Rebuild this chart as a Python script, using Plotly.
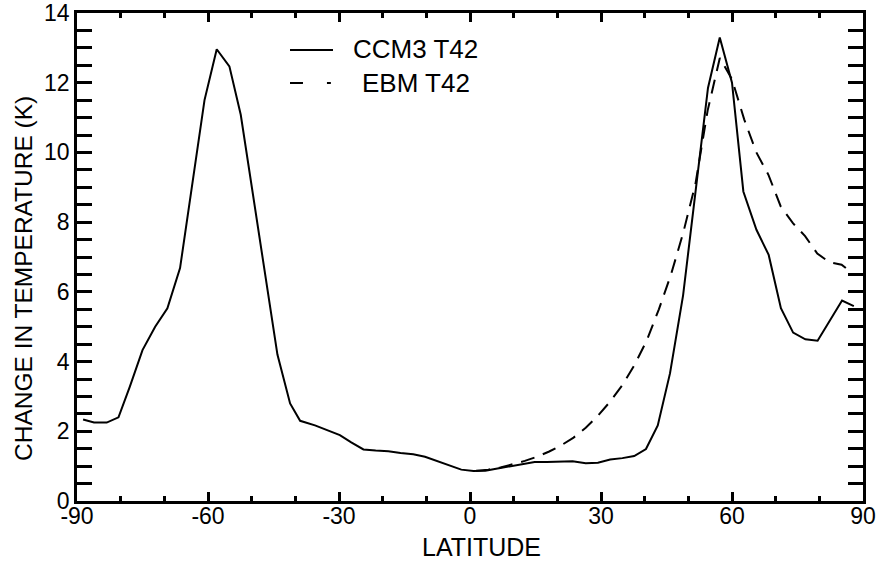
import plotly.graph_objects as go

# CCM3 T42 (solid)
ccm3_lat = [-88.6, -86.1, -83.2, -80.5, -77.9, -75.0, -72.1, -69.3, -66.4, -63.6, -60.8, -58.0,
            -55.1, -52.5, -49.7, -46.9, -44.1, -41.2, -38.9, -35.5, -32.7, -29.8, -27.2, -24.4,
            -21.6, -18.7, -15.9, -13.0, -10.3, -7.6, -4.8, -2.0, 0.8, 3.5, 6.3, 9.2, 12.0, 14.8,
            17.6, 20.5, 23.5, 26.5, 29.3, 32.1, 34.9, 37.6, 40.3, 43.0, 45.8, 48.8, 51.6, 54.5,
            57.2, 60.0, 62.6, 65.6, 68.4, 71.2, 74.0, 76.8, 79.6, 82.3, 85.2, 87.9]
ccm3_dt = [2.34, 2.25, 2.25, 2.40, 3.28, 4.33, 5.00, 5.53, 6.68, 9.10, 11.50, 12.96,
           12.47, 11.08, 8.80, 6.50, 4.20, 2.80, 2.30, 2.17, 2.03, 1.89, 1.68, 1.48,
           1.45, 1.43, 1.38, 1.34, 1.27, 1.15, 1.03, 0.90, 0.86, 0.87, 0.93, 1.00, 1.07, 1.12,
           1.12, 1.13, 1.14, 1.08, 1.10, 1.19, 1.23, 1.29, 1.49, 2.17, 3.66, 5.90, 8.90, 11.85,
           13.30, 12.00, 8.88, 7.78, 7.06, 5.53, 4.83, 4.64, 4.60, 5.15, 5.75, 5.59]

# EBM T42 (dashed)
ebm_lat = [1.40, 4.19, 6.98, 9.77, 12.56, 15.35, 18.14, 20.93, 23.72, 26.51, 29.30, 32.09,
           34.88, 37.67, 40.46, 43.25, 46.04, 48.84, 51.63, 54.42, 57.21, 60.00, 62.79, 65.58,
           68.37, 71.16, 73.95, 76.74, 79.53, 82.31, 85.10, 87.86]
ebm_dt = [0.87, 0.90, 0.96, 1.05, 1.15, 1.27, 1.42, 1.60, 1.82, 2.10, 2.45, 2.85,
          3.32, 3.90, 4.60, 5.50, 6.50, 7.70, 9.10, 11.20, 12.71, 12.10, 10.95, 10.00,
          9.35, 8.45, 7.97, 7.60, 7.10, 6.85, 6.78, 6.50]

x_range = [-90, 90]
y_range = [0, 14]
x_tick0, x_dtick, x_minor = -90, 30, 10
y_tick0, y_dtick, y_minor = 0, 2, 0.5
x_labels = [-90, -60, -30, 0, 30, 60, 90]

FONT = "Liberation Sans, Arial, Helvetica, sans-serif"

fig = go.Figure()
fig.add_trace(go.Scatter(x=ccm3_lat, y=ccm3_dt, mode="lines", xaxis="x", yaxis="y",
                         line=dict(color="black", width=2), name="CCM3 T42"))
fig.add_trace(go.Scatter(x=ebm_lat, y=ebm_dt, mode="lines", xaxis="x2", yaxis="y",
                         line=dict(color="black", width=2, dash="14px,9px"), name="EBM T42"))

fig.update_layout(
    template="none",
    width=886, height=562,
    margin=dict(l=77, r=23, t=13, b=61),
    paper_bgcolor="white", plot_bgcolor="white",
    showlegend=False,
    font=dict(family=FONT, color="black", size=23),
    xaxis=dict(
        range=x_range, tickmode="linear", tick0=x_tick0, dtick=x_dtick,
        showticklabels=False, automargin=False,
        showgrid=False, zeroline=False, showline=True, linecolor="black", linewidth=2.5,
        mirror="allticks", ticks="inside", ticklen=9, tickwidth=2.5, tickcolor="black",
        minor=dict(tickmode="linear", tick0=x_tick0, dtick=x_minor, ticks="inside", ticklen=5,
                   tickwidth=2.5, tickcolor="black", showgrid=False),
    ),
    xaxis2=dict(
        overlaying="x", anchor="y", side="bottom", range=x_range,
        tickmode="array", tickvals=x_labels, ticktext=[str(v) for v in x_labels],
        ticks="", showline=False, showgrid=False, zeroline=False, automargin=False,
        ticklabelstandoff=-1,
        tickfont=dict(size=23, family=FONT, color="black"),
    ),
    yaxis=dict(
        range=y_range, tickmode="linear", tick0=y_tick0, dtick=y_dtick,
        automargin=False,
        showgrid=False, zeroline=False, showline=True, linecolor="black", linewidth=2.5,
        mirror="allticks", ticks="inside", ticklen=15, tickwidth=2.5, tickcolor="black",
        minor=dict(tickmode="linear", tick0=y_tick0, dtick=y_minor, ticks="inside", ticklen=8,
                   tickwidth=2.5, tickcolor="black", showgrid=False),
        tickfont=dict(size=23, family=FONT, color="black"),
    ),
)

# axis titles
fig.add_annotation(text="LATITUDE", xref="paper", yref="paper", x=0.515, y=-0.094,
                   showarrow=False, xanchor="center", yanchor="middle",
                   font=dict(size=25, family=FONT, color="black"))
fig.add_annotation(text="CHANGE IN TEMPERATURE (K)", xref="paper", yref="paper", x=-0.0674, y=0.455,
                   textangle=-90, showarrow=False, xanchor="center", yanchor="middle",
                   font=dict(size=24.5, family=FONT, color="black"))

# legend
fig.add_shape(type="line", xref="paper", yref="paper", x0=0.271, x1=0.3257, y0=0.924, y1=0.924,
              line=dict(color="black", width=2))
fig.add_shape(type="line", xref="paper", yref="paper", x0=0.271, x1=0.2875, y0=0.8566, y1=0.8566,
              line=dict(color="black", width=2))
fig.add_shape(type="line", xref="paper", yref="paper", x0=0.318, x1=0.323, y0=0.8566, y1=0.8566,
              line=dict(color="black", width=2))
fig.add_annotation(text="CCM3 T42", xref="paper", yref="paper", x=0.348, y=0.926,
                   showarrow=False, xanchor="left", yanchor="middle",
                   font=dict(size=26, family=FONT, color="black"))
fig.add_annotation(text="EBM T42", xref="paper", yref="paper", x=0.3606, y=0.8566,
                   showarrow=False, xanchor="left", yanchor="middle",
                   font=dict(size=26, family=FONT, color="black"))

fig.write_html("out.html", config={"displayModeBar": False},
               post_script="document.body.style.margin='0';")
